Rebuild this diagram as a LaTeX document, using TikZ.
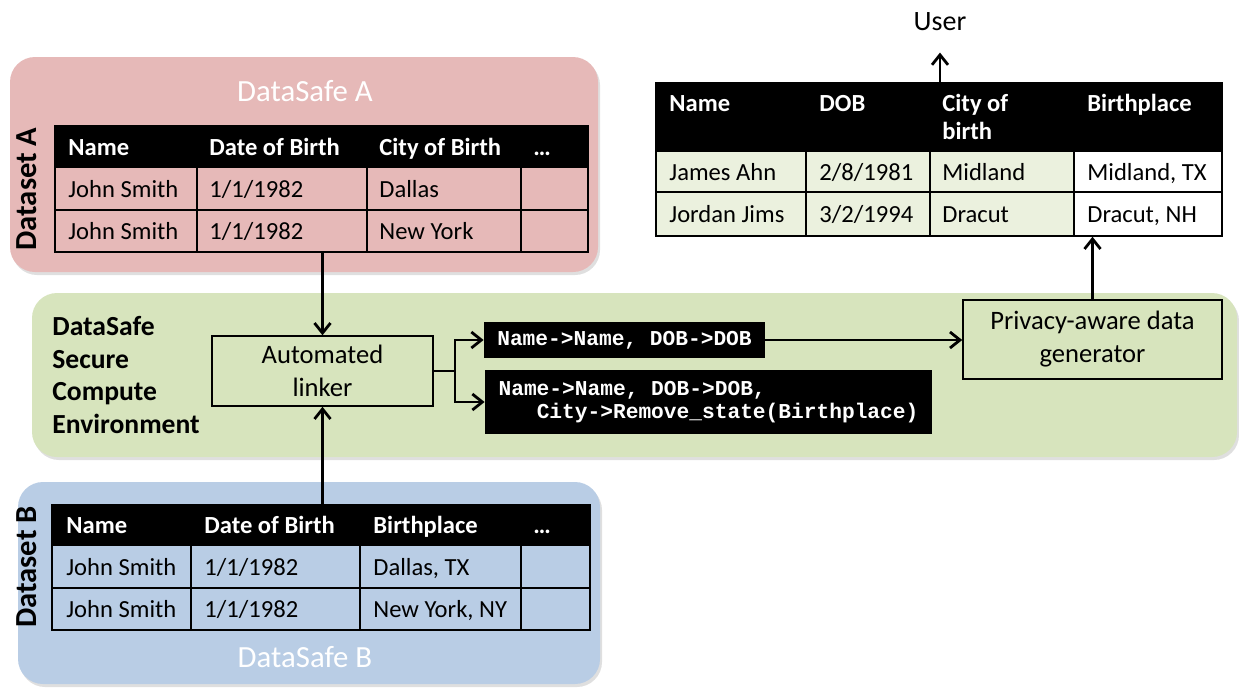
\documentclass[tikz,border=0pt]{standalone}
\usepackage{fontspec}
\setmainfont{Carlito}
\setmonofont{Liberation Mono}
\usetikzlibrary{shadows,arrows.meta,fit,calc}
\definecolor{safeA}{HTML}{E6B9B8}
\definecolor{safeB}{HTML}{B9CDE5}
\definecolor{secure}{HTML}{D7E4BD}
\definecolor{cellgreen}{HTML}{EBF1DE}
\begin{document}
\begin{tikzpicture}[x=0.5pt,y=-0.5pt,
  container/.style={rounded corners=12.5pt,
    drop shadow={opacity=0.25,shadow xshift=1pt,shadow yshift=-1.5pt}},
  frame/.style={draw=black,line width=0.75pt,inner sep=0pt},
  rule/.style={draw=black,line width=0.75pt},
  cell/.style={anchor=mid west,inner sep=0pt,yshift=-1.8pt,font=\fontsize{12.3}{14}\selectfont},
  headcell/.style={cell,text=white,font=\fontsize{12.3}{14}\selectfont\bfseries},
  safetitle/.style={text=white,inner sep=0pt,font=\fontsize{15.4}{18}\selectfont},
  setlabel/.style={rotate=90,inner sep=0pt,font=\fontsize{15.3}{18}\selectfont\bfseries},
  procbox/.style={draw=black,line width=0.75pt,fill=secure,align=center,
    inner sep=0pt,font=\fontsize{13.3}{16.5}\selectfont},
  mapbox/.style={fill=black,text=white,align=left,inner sep=0pt,
    font=\fontsize{10.6}{11.5}\selectfont\ttfamily\bfseries},
  arr/.style={line width=1.4pt,-{Straight Barb[length=5pt,width=8pt,line width=1.4pt]}}
]
\useasboundingbox (0,0) rectangle (1239,687);

% ---- DataSafe containers ----
\path[container,fill=secure] (32,293) rectangle (1237,457);
\path[container,fill=safeA] (10,57) rectangle (598,272);
\path[container,fill=safeB] (18,482) rectangle (600,684);

% ---- Dataset A ----
\node[safetitle] (titleA) at (305,91) {DataSafe A};
\node[setlabel] (labA) at (27,189) {Dataset A};
\fill[black] (55,126) rectangle (588,168);
\draw[rule] (55,210) -- (588,210);
\foreach \cx in {197,367,521} \draw[rule] (\cx,126) -- (\cx,252);
\node[frame,fit={(55,126) (588,252)}] (tabA) {};
\node[headcell] (aH1) at (68,147) {Name};
\node[headcell] (aH2) at (209,147) {Date of Birth};
\node[headcell] (aH3) at (379,147) {City of Birth};
\node[headcell] (aH4) at (533,147) {…};
\node[cell] (a11) at (68,189) {John Smith};
\node[cell] (a12) at (209,189) {1/1/1982};
\node[cell] (a13) at (379,189) {Dallas};
\node[cell] (a21) at (68,231) {John Smith};
\node[cell] (a22) at (209,231) {1/1/1982};
\node[cell] (a23) at (379,231) {New York};

% ---- Dataset B ----
\node[safetitle] (titleB) at (305,657) {DataSafe B};
\node[setlabel] (labB) at (27,567) {Dataset B};
\fill[black] (52,505) rectangle (590,546);
\draw[rule] (52,588) -- (590,588);
\foreach \cx in {191,360,521} \draw[rule] (\cx,505) -- (\cx,630);
\node[frame,fit={(52,505) (590,630)}] (tabB) {};
\node[headcell] (bH1) at (66,525) {Name};
\node[headcell] (bH2) at (204,525) {Date of Birth};
\node[headcell] (bH3) at (373,525) {Birthplace};
\node[headcell] (bH4) at (533,525) {…};
\node[cell] (b11) at (66,567) {John Smith};
\node[cell] (b12) at (204,567) {1/1/1982};
\node[cell] (b13) at (373,567) {Dallas, TX};
\node[cell] (b21) at (66,609) {John Smith};
\node[cell] (b22) at (204,609) {1/1/1982};
\node[cell] (b23) at (373,609) {New York, NY};

% ---- secure compute environment ----
\node[anchor=west,align=left,inner sep=0pt,
  font=\fontsize{13.8}{16.4}\selectfont\bfseries] (sce) at (52,375)
  {DataSafe\\Secure\\Compute\\Environment};
\node[procbox,minimum width=110.5pt,minimum height=35pt] (linker) at (322.5,371)
  {Automated\\linker};
\node[mapbox,minimum width=140.5pt,minimum height=18pt,align=center] (map1) at (624.5,340)
  {Name->Name, DOB->DOB};
\node[mapbox,minimum width=223.5pt,minimum height=32pt] (map2) at (708.5,402)
  {Name->Name, DOB->DOB,\\\hphantom{xxx}City->Remove\_state(Birthplace)};
\node[procbox,minimum width=129.5pt,minimum height=39.5pt] (priv) at (1092.5,339.5)
  {Privacy-aware data\\generator};
\coordinate (split) at (455,371);

% ---- released table ----
\fill[cellgreen] (656,152) rectangle (1074,236);
\fill[white] (1074,152) rectangle (1222,236);
\fill[black] (656,83) rectangle (1222,152);
\draw[rule] (656,192) -- (1222,192);
\foreach \cx in {806,930,1074} \draw[rule] (\cx,83) -- (\cx,236);
\node[frame,fit={(656,83) (1222,236)}] (out) {};
\node[headcell] (oH1) at (669,103) {Name};
\node[headcell] (oH2) at (819,103) {DOB};
\node[headcell] (oH3) at (942,103) {City of};
\node[headcell] (oH3b) at (942,131) {birth};
\node[headcell] (oH4) at (1087,103) {Birthplace};
\node[cell] (o11) at (669,172) {James Ahn};
\node[cell] (o12) at (819,172) {2/8/1981};
\node[cell] (o13) at (942,172) {Midland};
\node[cell] (o14) at (1087,172) {Midland, TX};
\node[cell] (o21) at (669,214) {Jordan Jims};
\node[cell] (o22) at (819,214) {3/2/1994};
\node[cell] (o23) at (942,214) {Dracut};
\node[cell] (o24) at (1087,214) {Dracut, NH};
\node[anchor=base,inner sep=0pt,font=\fontsize{14}{16}\selectfont] (user) at (940,30) {User};

% ---- connectors ----
\draw[arr] (tabA.south -| linker.north) -- (linker.north);
\draw[arr] (tabB.north -| linker.south) -- (linker.south);
\draw[line width=1.4pt] (linker.east) -- (split);
\draw[arr] (split) |- (map1.west);
\draw[arr] (split) |- (map2.west);
\draw[arr] (map1.east) -- (map1.east -| priv.west);
\draw[arr] (priv.north) -- (priv.north |- out.south);
\draw[arr,shorten >=11pt] (out.north -| user) -- (user.south);
\end{tikzpicture}
\end{document}
